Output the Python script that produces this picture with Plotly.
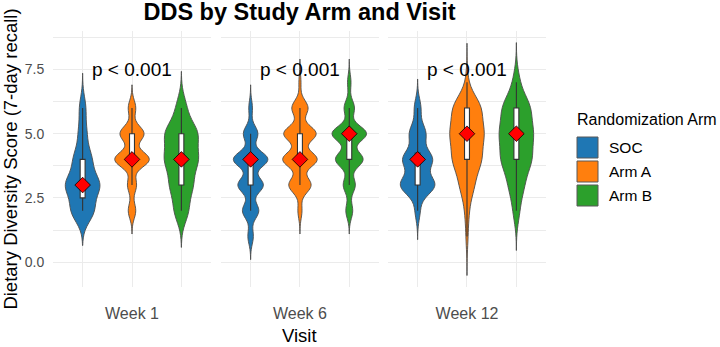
import numpy as np
import plotly.graph_objects as go
from plotly.subplots import make_subplots

# ---------------- data ----------------
visits = ["Week 1", "Week 6", "Week 12"]
arms = ["SOC", "Arm A", "Arm B"]
scores = [1, 2, 3, 4, 5, 6, 7]

# number of participants at each DDS score (1..7), per visit and arm
counts_w1_soc = [0, 14, 21, 11, 5, 4, 0]
counts_w1_a = [0, 5, 6, 23, 16, 5, 0]
counts_w1_b = [0, 7, 11, 16, 16, 5, 0]
counts_w6_soc = [3, 9, 14, 19, 8, 2, 0]
counts_w6_a = [0, 2, 11, 17, 16, 8, 1]
counts_w6_b = [0, 4, 7, 16, 20, 6, 2]
counts_w12_soc = [0, 3, 21, 18, 10, 4, 0]
counts_w12_a = [1, 2, 7, 14, 16, 14, 1]
counts_w12_b = [0, 3, 7, 14, 15, 13, 3]

counts = {
    "Week 1": [counts_w1_soc, counts_w1_a, counts_w1_b],
    "Week 6": [counts_w6_soc, counts_w6_a, counts_w6_b],
    "Week 12": [counts_w12_soc, counts_w12_a, counts_w12_b],
}
p_labels = ["p < 0.001", "p < 0.001", "p < 0.001"]
p_label_y = 7.5

arm_colors = ["#1F77B4", "#FF7F0E", "#2CA02C"]
FONT = "Liberation Sans, Arial, sans-serif"
GRID = "#EBEBEB"


def nrd0(x):
    sd = np.std(x, ddof=1)
    q75, q25 = np.percentile(x, [75, 25])
    lo = min(sd, (q75 - q25) / 1.34)
    return 0.9 * lo * len(x) ** -0.2


def box_stats(x):
    q1, med, q3 = np.percentile(x, [25, 50, 75])
    iqr = q3 - q1
    lf = x[x >= q1 - 1.5 * iqr].min()
    uf = x[x <= q3 + 1.5 * iqr].max()
    return q1, med, q3, lf, uf


fig = make_subplots(rows=1, cols=3, shared_yaxes=True, horizontal_spacing=0.02)

for ci, visit in enumerate(visits, start=1):
    meds = []
    for ai, arm in enumerate(arms):
        vals = np.repeat(scores, counts[visit][ai]).astype(float)
        bw = nrd0(vals)
        pos = ai + 1
        fig.add_trace(
            go.Violin(
                x=np.full(len(vals), pos),
                y=vals,
                name=arm,
                showlegend=False,
                fillcolor=arm_colors[ai],
                opacity=1,
                line=dict(color="#4D4D4D", width=0.9),
                bandwidth=bw,
                spanmode="manual",
                span=[vals.min() - 3 * bw, vals.max() + 3 * bw],
                width=0.7,
                scalemode="width",
                points=False,
                box=dict(visible=False),
                meanline=dict(visible=False),
                hoverinfo="skip",
            ),
            row=1, col=ci,
        )
        q1, med, q3, lf, uf = box_stats(vals)
        fig.add_trace(
            go.Box(
                x=[pos], q1=[q1], median=[med], q3=[q3],
                lowerfence=[lf], upperfence=[uf],
                width=0.1, whiskerwidth=0, boxpoints=False,
                fillcolor="white", line=dict(color="#333333", width=1.1),
                showlegend=False, hoverinfo="skip",
            ),
            row=1, col=ci,
        )
        meds.append(med)
    fig.add_trace(
        go.Scatter(
            x=[1, 2, 3], y=meds, mode="markers", showlegend=False,
            marker=dict(symbol="diamond", size=12, color="#FF0000",
                        line=dict(color="black", width=0.8)),
            hoverinfo="skip",
        ),
        row=1, col=ci,
    )
    fig.add_annotation(
        x=2, y=p_label_y, xref=f"x{'' if ci == 1 else ci}", yref="y",
        text=p_labels[ci - 1], showarrow=False,
        font=dict(family=FONT, size=19, color="black"),
    )
    fig.update_xaxes(
        range=[0.4, 3.6], tickvals=[2], ticktext=[visit],
        showgrid=True, gridcolor=GRID, gridwidth=1.1,
        minor=dict(tickvals=[1, 3], showgrid=True, gridcolor=GRID, gridwidth=1.1),
        ticks="", zeroline=False, showline=False, automargin=False,
        tickfont=dict(family=FONT, size=16, color="#4D4D4D"),
        ticklabelstandoff=15,
        row=1, col=ci,
    )

domains = [[0.0, 0.3205], [0.3408, 0.661], [0.6795, 1.0]]
for i, d in enumerate(domains, start=1):
    fig.layout[f"xaxis{'' if i == 1 else i}"].domain = d

fig.update_yaxes(
    range=[-0.97, 9.0], tick0=0, dtick=2.5, tickformat=".1f",
    showgrid=True, gridcolor=GRID, gridwidth=1.1,
    minor=dict(dtick=1.25, showgrid=True, gridcolor=GRID, gridwidth=0.6),
    ticks="outside", ticklen=5, tickcolor="rgba(0,0,0,0)",
    zeroline=False, showline=False, automargin=False,
    tickfont=dict(family=FONT, size=14, color="#4D4D4D"),
)
fig.update_yaxes(
    title=dict(text="Dietary Diversity Score (7-day recall)",
               font=dict(family=FONT, size=18.5, color="black"), standoff=4),
    row=1, col=1,
)

# x-axis title
fig.add_annotation(
    x=0.5, y=-0.19, xref="paper", yref="paper", text="Visit", showarrow=False,
    yanchor="middle", font=dict(family=FONT, size=18.5, color="black"),
)

# legend (drawn as keys + labels)
fig.add_annotation(
    x=(575 - 53) / 493, y=(287 - 119) / 256, xref="paper", yref="paper",
    text="Randomization Arm", showarrow=False, xanchor="left", yanchor="middle",
    font=dict(family=FONT, size=16, color="black"),
)
key_tops = [137, 161, 185]
for ai, arm in enumerate(arms):
    top = key_tops[ai]
    fig.add_shape(
        type="rect", xref="paper", yref="paper",
        x0=(577 - 53) / 493, x1=(598 - 53) / 493,
        y0=(287 - top - 21) / 256, y1=(287 - top) / 256,
        fillcolor=arm_colors[ai], line=dict(color="#595959", width=1),
    )
    fig.add_annotation(
        x=(607 - 53) / 493, y=(287 - top - 10.5) / 256, xref="paper", yref="paper",
        text=arm, showarrow=False, xanchor="left", yanchor="middle",
        font=dict(family=FONT, size=15.5, color="black"),
    )

fig.update_layout(
    width=720, height=347,
    margin=dict(l=53, r=174, t=31, b=60, autoexpand=False),
    paper_bgcolor="white", plot_bgcolor="white",
    violinmode="overlay", boxmode="overlay",
    showlegend=False,
    title=dict(text="<b>DDS by Study Arm and Visit</b>", x=0.5, xref="paper",
               y=1 - 12 / 347, yref="container", xanchor="center", yanchor="middle",
               font=dict(family=FONT, size=23.5, color="black")),
    font=dict(family=FONT),
)

fig.write_html("out.html")
